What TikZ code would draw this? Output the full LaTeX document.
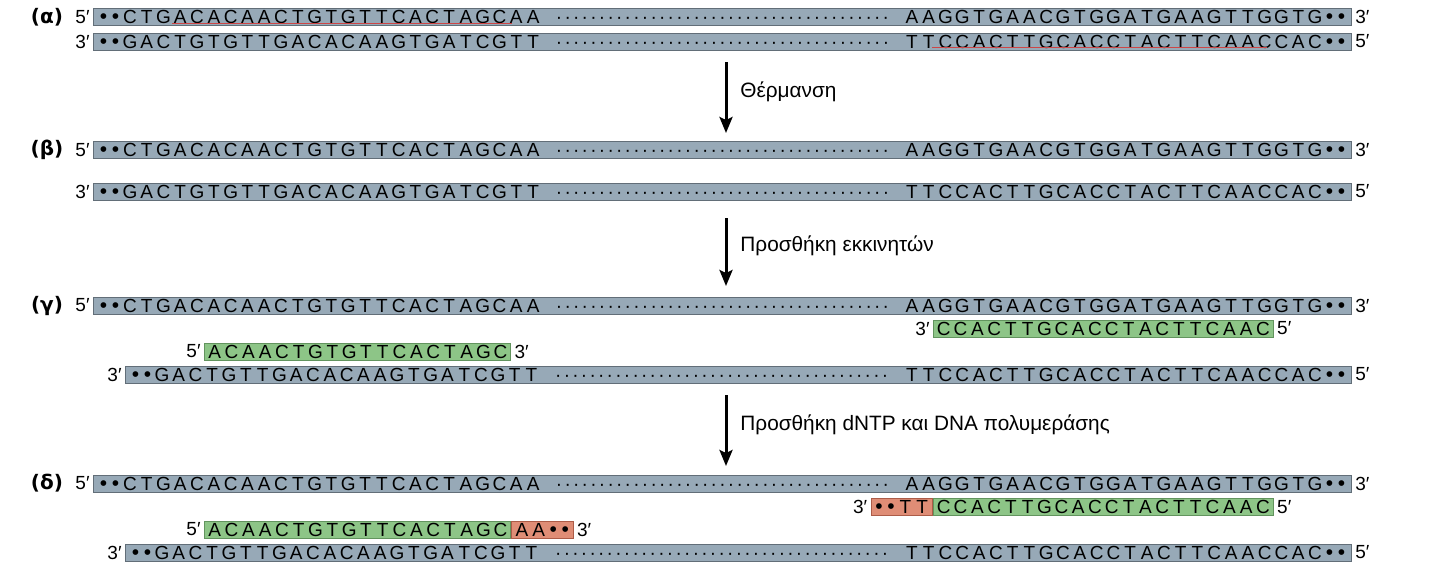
\documentclass[tikz,border=0pt]{standalone}
\usepackage{fontspec}
\setmainfont{Liberation Sans}
\newfontfamily\rowfont{DejaVu Sans}
\usetikzlibrary{arrows.meta,positioning}

\definecolor{strandgray}{RGB}{151,169,183}
\definecolor{strandedge}{RGB}{98,110,120}
\definecolor{primergreen}{RGB}{141,197,135}
\definecolor{primeredge}{RGB}{98,148,94}
\definecolor{newred}{RGB}{223,141,118}
\definecolor{newedge}{RGB}{172,92,72}
\definecolor{markred}{RGB}{205,70,70}

% one base per fixed slot
\newcommand\dnaseq[1]{\dnastep#1\relax}
\def\dnastep#1{\ifx#1\relax\else\dnachar{#1}\expandafter\dnastep\fi}
\def\dnachar#1{\ifx#1•\makebox[6pt]{\fontsize{10.5}{10.5}\selectfont#1}\else\ifx#1·\makebox[4.3pt]{#1}\else\makebox[8.4pt]{#1}\fi\fi}
\newcommand\dnagap{\dnaseq{····················}\dnaseq{···················}}
\newcommand\dnafont{\fontsize{9.5}{11}\selectfont}

\begin{document}
\begin{tikzpicture}[x=0.5pt,y=-0.5pt,
  strand/.style={draw=strandedge,fill=strandgray,line width=0.5pt,minimum height=8.5pt,
    inner xsep=2pt,inner ysep=0pt,anchor=west,font=\dnafont},
  primer/.style={draw=primeredge,fill=primergreen,line width=0.4pt,minimum height=8.5pt,
    inner xsep=1pt,inner ysep=0pt,font=\dnafont},
  newpart/.style={primer,draw=newedge,fill=newred},
  endlabel/.style={inner sep=0.5pt,font=\dnafont},
  rowlabel/.style={inner sep=0pt,font=\rowfont\bfseries\fontsize{10}{12}\selectfont},
  steparrow/.style={line width=1.5pt,-{Stealth[length=8pt,width=6.5pt,inset=1.5pt]}},
  steplabel/.style={anchor=west,inner sep=0pt,font=\fontsize{10.4}{12}\selectfont}]
  \useasboundingbox (0,0) rectangle (1447,579);

  % (a) double strand
  \node[rowlabel] (la) at (47,17) {(α)};
  \node[strand] (a1) at (93,17) {\makebox[625pt]{\dnaseq{••CTGACACAACTGTGTTCACTAGCAA}\hfill\dnagap\hfill\dnaseq{AAGGTGAACGTGGATGAAGTTGGTG••}}};
  \node[strand] (a2) at (93,41.5) {\makebox[625pt]{\dnaseq{••GACTGTGTTGACACAAGTGATCGTT}\hfill\dnagap\hfill\dnaseq{TTCCACTTGCACCTACTTCAACCAC••}}};
  \node[endlabel,left=1pt of a1] {5′};
  \node[endlabel,right=1pt of a1] {3′};
  \node[endlabel,left=1pt of a2] {3′};
  \node[endlabel,right=1pt of a2] {5′};
  \draw[markred,line width=0.4pt] (172,23) -- (512,23);
  \draw[markred,line width=0.4pt] (932,47.5) -- (1267,47.5);

  % heating
  \coordinate (h1) at (726,62);
  \coordinate (h2) at (726,133);
  \draw[steparrow] (h1) -- (h2);
  \node[steplabel] (t1) at (740,92) {Θέρμανση};

  % (b) separated strands
  \node[rowlabel] (lb) at (47,150) {(β)};
  \node[strand] (b1) at (93,150) {\makebox[625pt]{\dnaseq{••CTGACACAACTGTGTTCACTAGCAA}\hfill\dnagap\hfill\dnaseq{AAGGTGAACGTGGATGAAGTTGGTG••}}};
  \node[strand] (b2) at (93,191.5) {\makebox[625pt]{\dnaseq{••GACTGTGTTGACACAAGTGATCGTT}\hfill\dnagap\hfill\dnaseq{TTCCACTTGCACCTACTTCAACCAC••}}};
  \node[endlabel,left=1pt of b1] {5′};
  \node[endlabel,right=1pt of b1] {3′};
  \node[endlabel,left=1pt of b2] {3′};
  \node[endlabel,right=1pt of b2] {5′};

  % primers
  \coordinate (p1) at (726,218);
  \coordinate (p2) at (726,286);
  \draw[steparrow] (p1) -- (p2);
  \node[steplabel] (t2) at (740,246) {Προσθήκη εκκινητών};

  % (c) annealed primers
  \node[rowlabel] (lc) at (47,305.5) {(γ)};
  \node[strand] (c1) at (93,305.5) {\makebox[625pt]{\dnaseq{••CTGACACAACTGTGTTCACTAGCAA}\hfill\dnagap\hfill\dnaseq{AAGGTGAACGTGGATGAAGTTGGTG••}}};
  \node[strand] (c2) at (125,374.5) {\makebox[609pt]{\dnaseq{••GACTGTTGACACAAGTGATCGTT}\hfill\dnagap\hfill\dnaseq{TTCCACTTGCACCTACTTCAACCAC••}}};
  \node[endlabel,left=1pt of c1] {5′};
  \node[endlabel,right=1pt of c1] {3′};
  \node[endlabel,left=1pt of c2] {3′};
  \node[endlabel,right=1pt of c2] {5′};
  \node[primer,anchor=west] (cr) at (933,328.5) {\dnaseq{CCACTTGCACCTACTTCAAC}};
  \node[endlabel,left=1pt of cr] {3′};
  \node[endlabel,right=1pt of cr] {5′};
  \node[primer,anchor=west] (cl) at (204,351.5) {\dnaseq{ACAACTGTGTTCACTAGC}};
  \node[endlabel,left=1pt of cl] {5′};
  \node[endlabel,right=1pt of cl] {3′};

  % extension
  \coordinate (e1) at (726,395);
  \coordinate (e2) at (726,466);
  \draw[steparrow] (e1) -- (e2);
  \node[steplabel] (t3) at (740,425) {Προσθήκη dNTP και DNA πολυμεράσης};

  % (d) extended primers
  \node[rowlabel] (ld) at (47,483.5) {(δ)};
  \node[strand] (d1) at (93,483.5) {\makebox[625pt]{\dnaseq{••CTGACACAACTGTGTTCACTAGCAA}\hfill\dnagap\hfill\dnaseq{AAGGTGAACGTGGATGAAGTTGGTG••}}};
  \node[strand] (d2) at (125,552.5) {\makebox[609pt]{\dnaseq{••GACTGTTGACACAAGTGATCGTT}\hfill\dnagap\hfill\dnaseq{TTCCACTTGCACCTACTTCAACCAC••}}};
  \node[endlabel,left=1pt of d1] {5′};
  \node[endlabel,right=1pt of d1] {3′};
  \node[endlabel,left=1pt of d2] {3′};
  \node[endlabel,right=1pt of d2] {5′};
  \node[primer,anchor=west] (dr) at (933,507) {\dnaseq{CCACTTGCACCTACTTCAAC}};
  \node[newpart,left=0pt of dr] (drx) {\dnaseq{••TT}};
  \node[endlabel,left=1pt of drx] {3′};
  \node[endlabel,right=1pt of dr] {5′};
  \node[primer,anchor=west] (dl) at (204,529.5) {\dnaseq{ACAACTGTGTTCACTAGC}};
  \node[newpart,right=0pt of dl] (dlx) {\dnaseq{AA••}};
  \node[endlabel,left=1pt of dl] {5′};
  \node[endlabel,right=1pt of dlx] {3′};
\end{tikzpicture}
\end{document}
